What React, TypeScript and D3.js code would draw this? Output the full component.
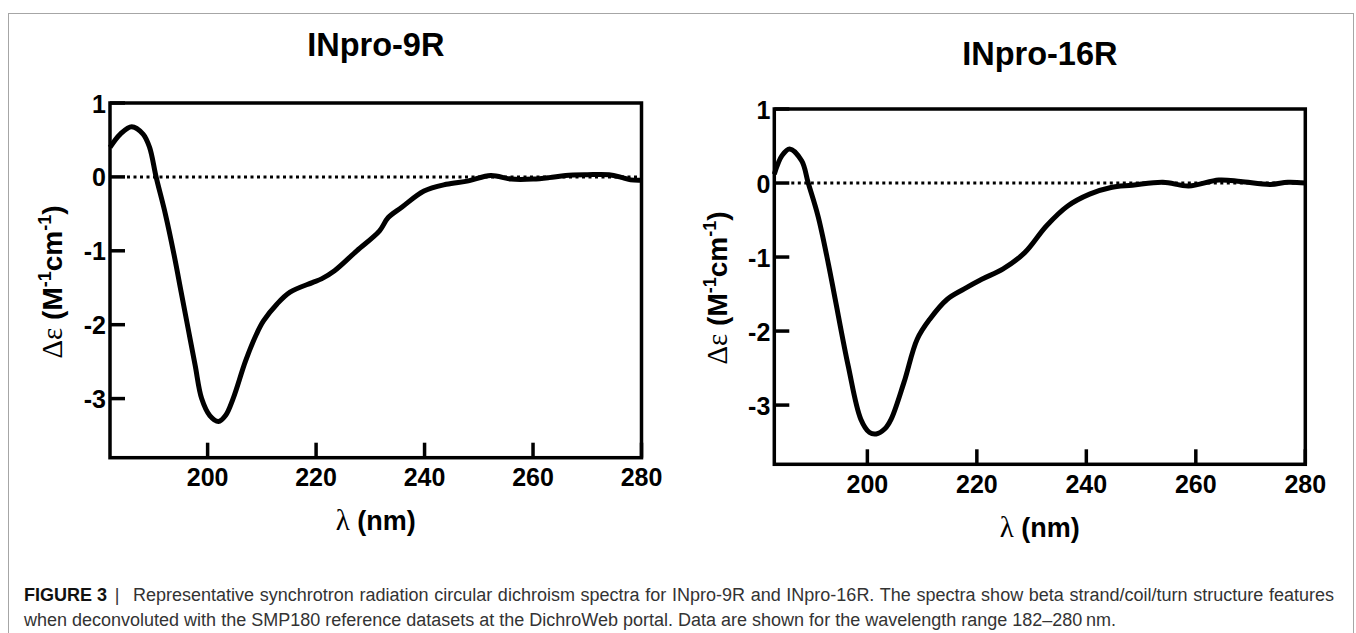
import * as d3 from "d3";
import React, { useLayoutEffect, useRef, useState } from "react";

// INpro-9R spectrum (nm, delta epsilon)
const wavelength9R = [182, 183.9, 186, 188.1, 189.3, 190.5, 192.2, 193.8, 195.1, 196.4, 197.7, 198.9, 200.4, 202, 203.3, 204.7, 207, 209, 210.3, 212.8, 215.2, 219.3, 221, 223.4, 227.5, 231.7, 233.3, 235.8, 239.9, 244, 248.1, 252.2, 256, 260, 263, 266, 270, 274, 276.5, 278, 280];
const deltaEps9R = [0.4, 0.58, 0.68, 0.58, 0.4, 0, -0.5, -1.05, -1.55, -2.05, -2.55, -3, -3.23, -3.31, -3.23, -3, -2.49, -2.13, -1.95, -1.72, -1.56, -1.43, -1.38, -1.27, -1, -0.73, -0.55, -0.41, -0.19, -0.1, -0.054, 0.02, -0.03, -0.03, -0.01, 0.02, 0.03, 0.03, -0.01, -0.04, -0.045];

// INpro-16R spectrum
const wavelength16R = [183, 184.4, 185.8, 188, 189.2, 191, 192.9, 194.1, 196.5, 198.8, 200.4, 201.6, 203.2, 204.35, 206.7, 209.1, 211.4, 214.6, 217.7, 220.9, 224.8, 228.75, 232.7, 236.6, 240.6, 244.5, 248.4, 254, 258.7, 264.2, 268.2, 273.6, 276.8, 280];
const deltaEps16R = [0.12, 0.37, 0.46, 0.3, 0, -0.45, -1.1, -1.56, -2.47, -3.19, -3.37, -3.39, -3.32, -3.19, -2.69, -2.11, -1.84, -1.57, -1.43, -1.3, -1.16, -0.94, -0.58, -0.31, -0.15, -0.06, -0.03, 0.01, -0.04, 0.04, 0.02, -0.02, 0.01, 0];

const xTickValues = [200, 220, 240, 260, 280];
const yTickValues = [1, 0, -1, -2, -3];
const yDomain = [-3.8, 1];
const panelTitles = ["INpro-9R", "INpro-16R"];
const captionLabel = "FIGURE 3";
const captionLine1 = "Representative synchrotron radiation circular dichroism spectra for INpro-9R and INpro-16R. The spectra show beta strand/coil/turn structure features";
const captionLine2 = "when deconvoluted with the SMP180 reference datasets at the DichroWeb portal. Data are shown for the wavelength range 182–280\u2009nm.";

const sans = "'Liberation Sans', Arial, sans-serif";
const serif = "'Liberation Serif', 'Times New Roman', serif";

function Panel({ title, xs, ys, xStart, box, titleY, xLabelY, yLabelX, yLabelY }) {
  const xScale = d3.scaleLinear().domain([xStart, 280]).range([box.left, box.right]);
  const yScale = d3.scaleLinear().domain(yDomain).range([box.bottom, box.top]);

  const linePath = d3
    .line<number>()
    .x((d, i) => xScale(xs[i]))
    .y((d) => yScale(d))
    .curve(d3.curveCatmullRom.alpha(0.5))(ys);

  const cx = (box.left + box.right) / 2;
  const tickLen = 15;

  return (
    <g fontFamily={sans}>
      <text x={cx} y={titleY} textAnchor="middle" fontSize={32.5} fontWeight="bold">
        {title}
      </text>

      {/* zero line */}
      <line
        x1={box.left + tickLen + 2}
        x2={box.right}
        y1={yScale(0)}
        y2={yScale(0)}
        stroke="#000"
        strokeWidth={3}
        strokeDasharray="3 3.5"
      />

      <path d={linePath || undefined} fill="none" stroke="#000" strokeWidth={5} strokeLinejoin="round" />

      <rect
        x={box.left}
        y={box.top}
        width={box.right - box.left}
        height={box.bottom - box.top}
        fill="none"
        stroke="#000"
        strokeWidth={3.5}
      />

      {yTickValues.map((t) => (
        <g key={"y" + t}>
          <line x1={box.left} x2={box.left + tickLen} y1={yScale(t)} y2={yScale(t)} stroke="#000" strokeWidth={3.5} />
          <text x={box.left - 4} y={yScale(t) + 9.5} textAnchor="end" fontSize={25} fontWeight="bold">
            {t}
          </text>
        </g>
      ))}

      {xTickValues.map((t) => (
        <g key={"x" + t}>
          <line x1={xScale(t)} x2={xScale(t)} y1={box.bottom} y2={box.bottom - tickLen} stroke="#000" strokeWidth={3.5} />
          <text x={xScale(t)} y={box.bottom + 28.5} textAnchor="middle" fontSize={25} fontWeight="bold">
            {t}
          </text>
        </g>
      ))}

      <text x={cx} y={xLabelY} textAnchor="middle" fontSize={27} fontWeight="bold">
        <tspan fontFamily={serif} fontWeight="normal" fontSize={29}>λ</tspan>
        <tspan> (nm)</tspan>
      </text>

      <text
        transform={`translate(${yLabelX},${yLabelY}) rotate(-90)`}
        textAnchor="middle"
        fontSize={28}
        fontWeight="bold"
      >
        <tspan fontFamily={serif} fontWeight="normal" fontSize={29}>Δε</tspan>
        <tspan> (M</tspan>
        <tspan fontSize={18} dy={-11}>-1</tspan>
        <tspan dy={11}>cm</tspan>
        <tspan fontSize={18} dy={-11}>-1</tspan>
        <tspan dy={11}>)</tspan>
      </text>
    </g>
  );
}

// caption: first line justified to the full width, last line natural
function Caption({ x, textX, right, y1, y2 }) {
  const line1Ref = useRef<SVGTextElement>(null);
  const [wordSpacing, setWordSpacing] = useState(0);

  useLayoutEffect(() => {
    const el = line1Ref.current;
    if (!el) return;
    const natural = el.getComputedTextLength();
    const spaces = (captionLine1.match(/ /g) || []).length;
    setWordSpacing(Math.max(0, (right - textX - natural) / spaces));
  }, [right, textX]);

  return (
    <g fontFamily={sans} fontSize={18} fill="#333">
      <text x={x} y={y1} fontWeight="bold" fill="#111">{captionLabel}</text>
      <text x={textX - 16} y={y1} textAnchor="middle">|</text>
      <text ref={line1Ref} x={textX} y={y1} style={{ wordSpacing: wordSpacing }}>
        {captionLine1}
      </text>
      <text x={x} y={y2}>
        {captionLine2}
      </text>
    </g>
  );
}

export default function App() {
  return (
    <svg
      width={1356}
      height={633}
      style={{ position: "absolute", left: 0, top: 0, background: "#fff" }}
    >
      <rect x={0} y={0} width={1356} height={633} fill="#fff" />
      <rect x={8.5} y={13.5} width={1345} height={640} fill="none" stroke="#a6a6a6" strokeWidth={1} />

      <Panel
        title={panelTitles[0]}
        xs={wavelength9R}
        ys={deltaEps9R}
        xStart={182}
        box={{ left: 110, right: 641.5, top: 103, bottom: 457.7 }}
        titleY={56}
        xLabelY={530}
        yLabelX={62}
        yLabelY={282}
      />
      <Panel
        title={panelTitles[1]}
        xs={wavelength16R}
        ys={deltaEps16R}
        xStart={183}
        box={{ left: 774.3, right: 1305.3, top: 109, bottom: 464.3 }}
        titleY={65}
        xLabelY={537}
        yLabelX={727}
        yLabelY={288}
      />

      <Caption x={24} textX={133} right={1334} y1={601} y2={626} />
    </svg>
  );
}
